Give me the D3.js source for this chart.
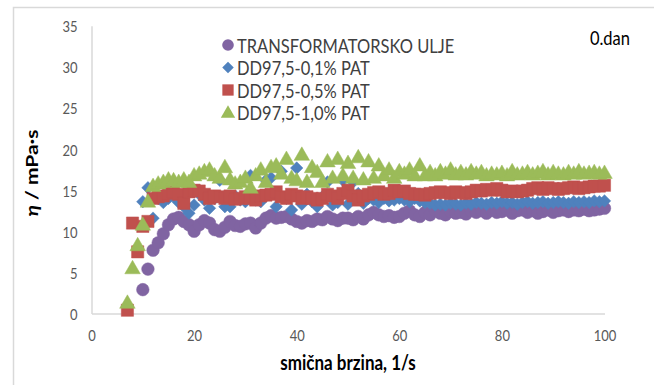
<!DOCTYPE html>
<html>
<head>
<meta charset="utf-8">
<script src="https://cdn.jsdelivr.net/npm/d3@7"></script>
<style>
  html, body { margin: 0; padding: 0; background: #fff; }
  svg { display: block; }
  text { font-family: Lato, "Open Sans", sans-serif; }
</style>
</head>
<body>
<svg id="chart" width="654" height="385"></svg>
<script>
// Shear rate (1/s) and viscosity (mPa·s) per sample
const xOil = d3.range(10, 101);
const yOil = [2.9, 5.4, 7.7, 8.6, 9.7, 10.8, 11.5, 11.7, 11.2, 10.8,
  10.0, 10.8, 11.3, 11.0, 10.2, 10.0, 10.5, 11.2, 10.7, 10.6,
  10.9, 11.0, 10.4, 11.0, 11.6, 11.9, 11.6, 11.7, 11.8, 11.5,
  11.2, 11.0, 11.3, 11.2, 11.5, 11.4, 11.8, 11.5, 11.3, 11.6,
  11.6, 11.4, 11.8, 11.5, 12.0, 12.3, 12.0, 11.8, 11.9, 11.7,
  11.8, 12.2, 12.5, 12.0, 11.8, 12.3, 12.0, 12.5, 12.2, 12.0,
  12.4, 12.2, 12.3, 12.1, 12.5, 12.3, 12.5, 12.2, 12.6, 12.3,
  12.4, 12.6, 12.2, 12.5, 12.6, 12.3, 12.5, 12.2, 12.4, 12.6,
  12.3, 12.5, 12.6, 12.4, 12.6, 12.5, 12.7, 12.5, 12.6, 12.7, 12.8];

const xPat01 = d3.range(10, 101);
const yPat01 = [13.6, 15.3, 11.6, 14.0, 13.5, 14.0, 14.2, 13.5, 13.0, 12.2,
  13.2, 14.5, 13.8, 12.8, 14.0, 16.2, 13.0, 13.0, 14.3, 13.8,
  13.6, 16.8, 13.8, 13.6, 16.2, 16.5, 13.0, 17.3, 14.0, 12.6,
  17.7, 13.3, 14.5, 13.6, 13.0, 14.2, 16.0, 13.2, 13.5, 16.2,
  13.3, 16.0, 14.6, 13.4, 14.0, 13.8, 13.5, 14.0, 13.7, 13.8,
  14.0, 13.8, 13.6, 14.0, 13.7, 13.5, 13.4, 13.2, 13.3, 13.2,
  13.4, 13.3, 13.2, 13.4, 13.3, 13.5, 13.4, 13.3, 13.5, 13.4,
  13.6, 13.4, 13.5, 13.3, 13.5, 13.6, 13.4, 13.5, 13.6, 13.4,
  13.5, 13.6, 13.5, 13.4, 13.6, 13.5, 13.6, 13.5, 13.7, 13.6, 13.7];

const xPat05 = d3.range(7, 101);
const yPat05 = [0.4, 11.0, 7.5, 10.6, 11.2, 14.0, 14.2, 14.3, 14.6, 14.8,
  14.5, 13.4, 14.8, 15.0, 14.9, 14.5, 14.0, 14.3, 14.2, 14.0,
  14.3, 13.9, 14.0, 14.2, 14.0, 13.8, 14.3, 14.4, 14.5, 14.8,
  14.2, 14.0, 14.5, 14.3, 14.0, 14.2, 14.0, 13.8, 14.0, 14.5,
  14.3, 14.0, 14.6, 15.0, 14.3, 13.8, 14.3, 14.5, 14.7, 14.8,
  14.5, 14.6, 15.0, 14.8, 14.9, 14.6, 14.5, 14.5, 14.4, 14.6,
  14.7, 14.8, 14.7, 14.6, 14.8, 14.7, 14.6, 14.8, 15.0, 14.9,
  15.1, 15.0, 15.2, 15.0, 14.8, 14.9, 14.8, 14.9, 15.0, 15.2,
  15.3, 15.1, 15.3, 15.2, 15.1, 15.2, 15.3, 15.4, 15.2, 15.3,
  15.4, 15.5, 15.5, 15.6];

const xPat10 = d3.range(7, 101);
const yPat10 = [1.3, 5.5, 8.3, 10.8, 13.6, 15.5, 15.8, 16.0, 16.3, 16.2,
  16.0, 16.3, 16.0, 16.8, 17.0, 17.3, 17.5, 16.8, 16.5, 17.8,
  16.3, 15.8, 16.0, 16.5, 15.3, 16.8, 17.5, 16.0, 17.8, 18.0,
  17.0, 18.8, 16.5, 16.2, 19.3, 16.0, 17.8, 17.2, 16.0, 18.5,
  16.5, 18.8, 16.8, 18.3, 16.5, 19.0, 16.3, 18.5, 16.5, 18.0,
  16.8, 17.5, 16.5, 17.3, 17.0, 17.5, 16.8, 18.0, 16.8, 17.2,
  16.8, 17.3, 17.0, 17.5, 16.9, 17.2, 16.9, 17.3, 17.0, 17.2,
  16.8, 17.0, 16.9, 17.1, 16.8, 17.3, 16.9, 17.0, 17.2, 16.9,
  17.1, 17.3, 16.9, 17.2, 17.0, 16.9, 17.2, 17.0, 17.3, 17.0,
  17.1, 17.2, 17.0, 17.1];

const seriesNames = ["TRANSFORMATORSKO ULJE", "DD97,5-0,1% PAT", "DD97,5-0,5% PAT", "DD97,5-1,0% PAT"];
const seriesColors = ["#8064A2", "#4F81BD", "#C0504D", "#9BBB59"];
const xTicks = [0, 20, 40, 60, 80, 100];
const yTicks = [0, 5, 10, 15, 20, 25, 30, 35];

// marker shapes: circle, diamond (square turned 45°), square, triangle
const markers = [
  { type: d3.symbolCircle, size: 125, rot: 0, dy: 0 },
  { type: d3.symbolSquare, size: 78, rot: 45, dy: 0 },
  { type: d3.symbolSquare, size: 150, rot: 0, dy: 0 },
  { type: d3.symbolTriangle, size: 105, rot: 0, dy: 1 }
];

const series = [
  { x: xOil, y: yOil },
  { x: xPat01, y: yPat01 },
  { x: xPat05, y: yPat05 },
  { x: xPat10, y: yPat10 }
];

const TEXT_STRETCH = 1.2;
const svg = d3.select("#chart");

// outer frame (top and left edges)
svg.append("path")
  .attr("d", "M13.5,385 V7.5 H654")
  .attr("fill", "none").attr("stroke", "#d9d9d9").attr("stroke-width", 1.5);

const x = d3.scaleLinear().domain([0, 100]).range([91.5, 604.5]);
const y = d3.scaleLinear().domain([0, 35]).range([313.5, 25.8]);

// axes
const yAxis = d3.axisLeft(y).tickValues(yTicks).tickSize(0).tickPadding(14);
const xAxis = d3.axisBottom(x).tickValues(xTicks).tickSize(0).tickPadding(0);

const gy = svg.append("g").attr("transform", `translate(${x(0)},0)`).call(yAxis);
const gx = svg.append("g").attr("transform", `translate(0,${y(0)})`).call(xAxis);
[gx, gy].forEach(g => {
  g.select(".domain").attr("stroke", "#d9d9d9").attr("stroke-width", 1.5);
  g.selectAll("text").attr("fill", "#595959").attr("font-size", 13)
    .style("font-family", "Lato, sans-serif");
});
gy.selectAll(".tick text").attr("x", null).attr("dy", null)
  .attr("transform", `translate(-14,0) scale(1,${TEXT_STRETCH})`)
  .attr("dominant-baseline", "central");
gx.selectAll(".tick text").attr("y", null).attr("dy", null)
  .attr("transform", `translate(0,22) scale(1,${TEXT_STRETCH})`)
  .attr("dominant-baseline", "central");

// data markers, series drawn in order so later ones sit on top
series.forEach((s, i) => {
  const m = markers[i];
  const sym = d3.symbol().type(m.type).size(m.size);
  svg.append("g").selectAll("path")
    .data(s.x.map((v, j) => [v, s.y[j]]))
    .join("path")
    .attr("d", sym)
    .attr("transform", d => `translate(${x(d[0])},${y(d[1]) + m.dy}) rotate(${m.rot})`)
    .attr("fill", seriesColors[i])
    .attr("stroke", seriesColors[i])
    .attr("stroke-width", 0.8)
    .attr("stroke-opacity", 0.6);
});

// stretched text helper
function label(px, py, size, opts = {}) {
  return svg.append("text")
    .attr("transform", `translate(${px},${py}) ${opts.rotate ? "rotate(-90)" : ""} scale(${opts.rotate ? TEXT_STRETCH : 1},${opts.rotate ? 1 : TEXT_STRETCH})`)
    .attr("dominant-baseline", "central")
    .attr("text-anchor", opts.anchor || "start")
    .attr("font-size", size)
    .attr("font-weight", opts.weight || "normal")
    .attr("fill", opts.fill || "#000");
}

// legend
seriesNames.forEach((name, i) => {
  const ly = 45 + i * 22.5;
  const m = markers[i];
  svg.append("path")
    .attr("d", d3.symbol().type(m.type).size(m.size * 0.85)())
    .attr("transform", `translate(228,${ly + m.dy}) rotate(${m.rot})`)
    .attr("fill", seriesColors[i]);
  label(237, ly, 16.5, { fill: "#404040" }).text(name);
});

// panel label
label(630, 37, 16.5, { anchor: "end" }).text("0.dan");

// axis titles
label(348, 362, 17, { anchor: "middle", weight: "bold" }).text("smična brzina, 1/s");

const yTitle = label(31, 173, 17.5, { anchor: "middle", weight: "bold", rotate: true });
yTitle.append("tspan").attr("font-style", "italic").text("η");
yTitle.append("tspan").text(" / mPa·s");
</script>
</body>
</html>
